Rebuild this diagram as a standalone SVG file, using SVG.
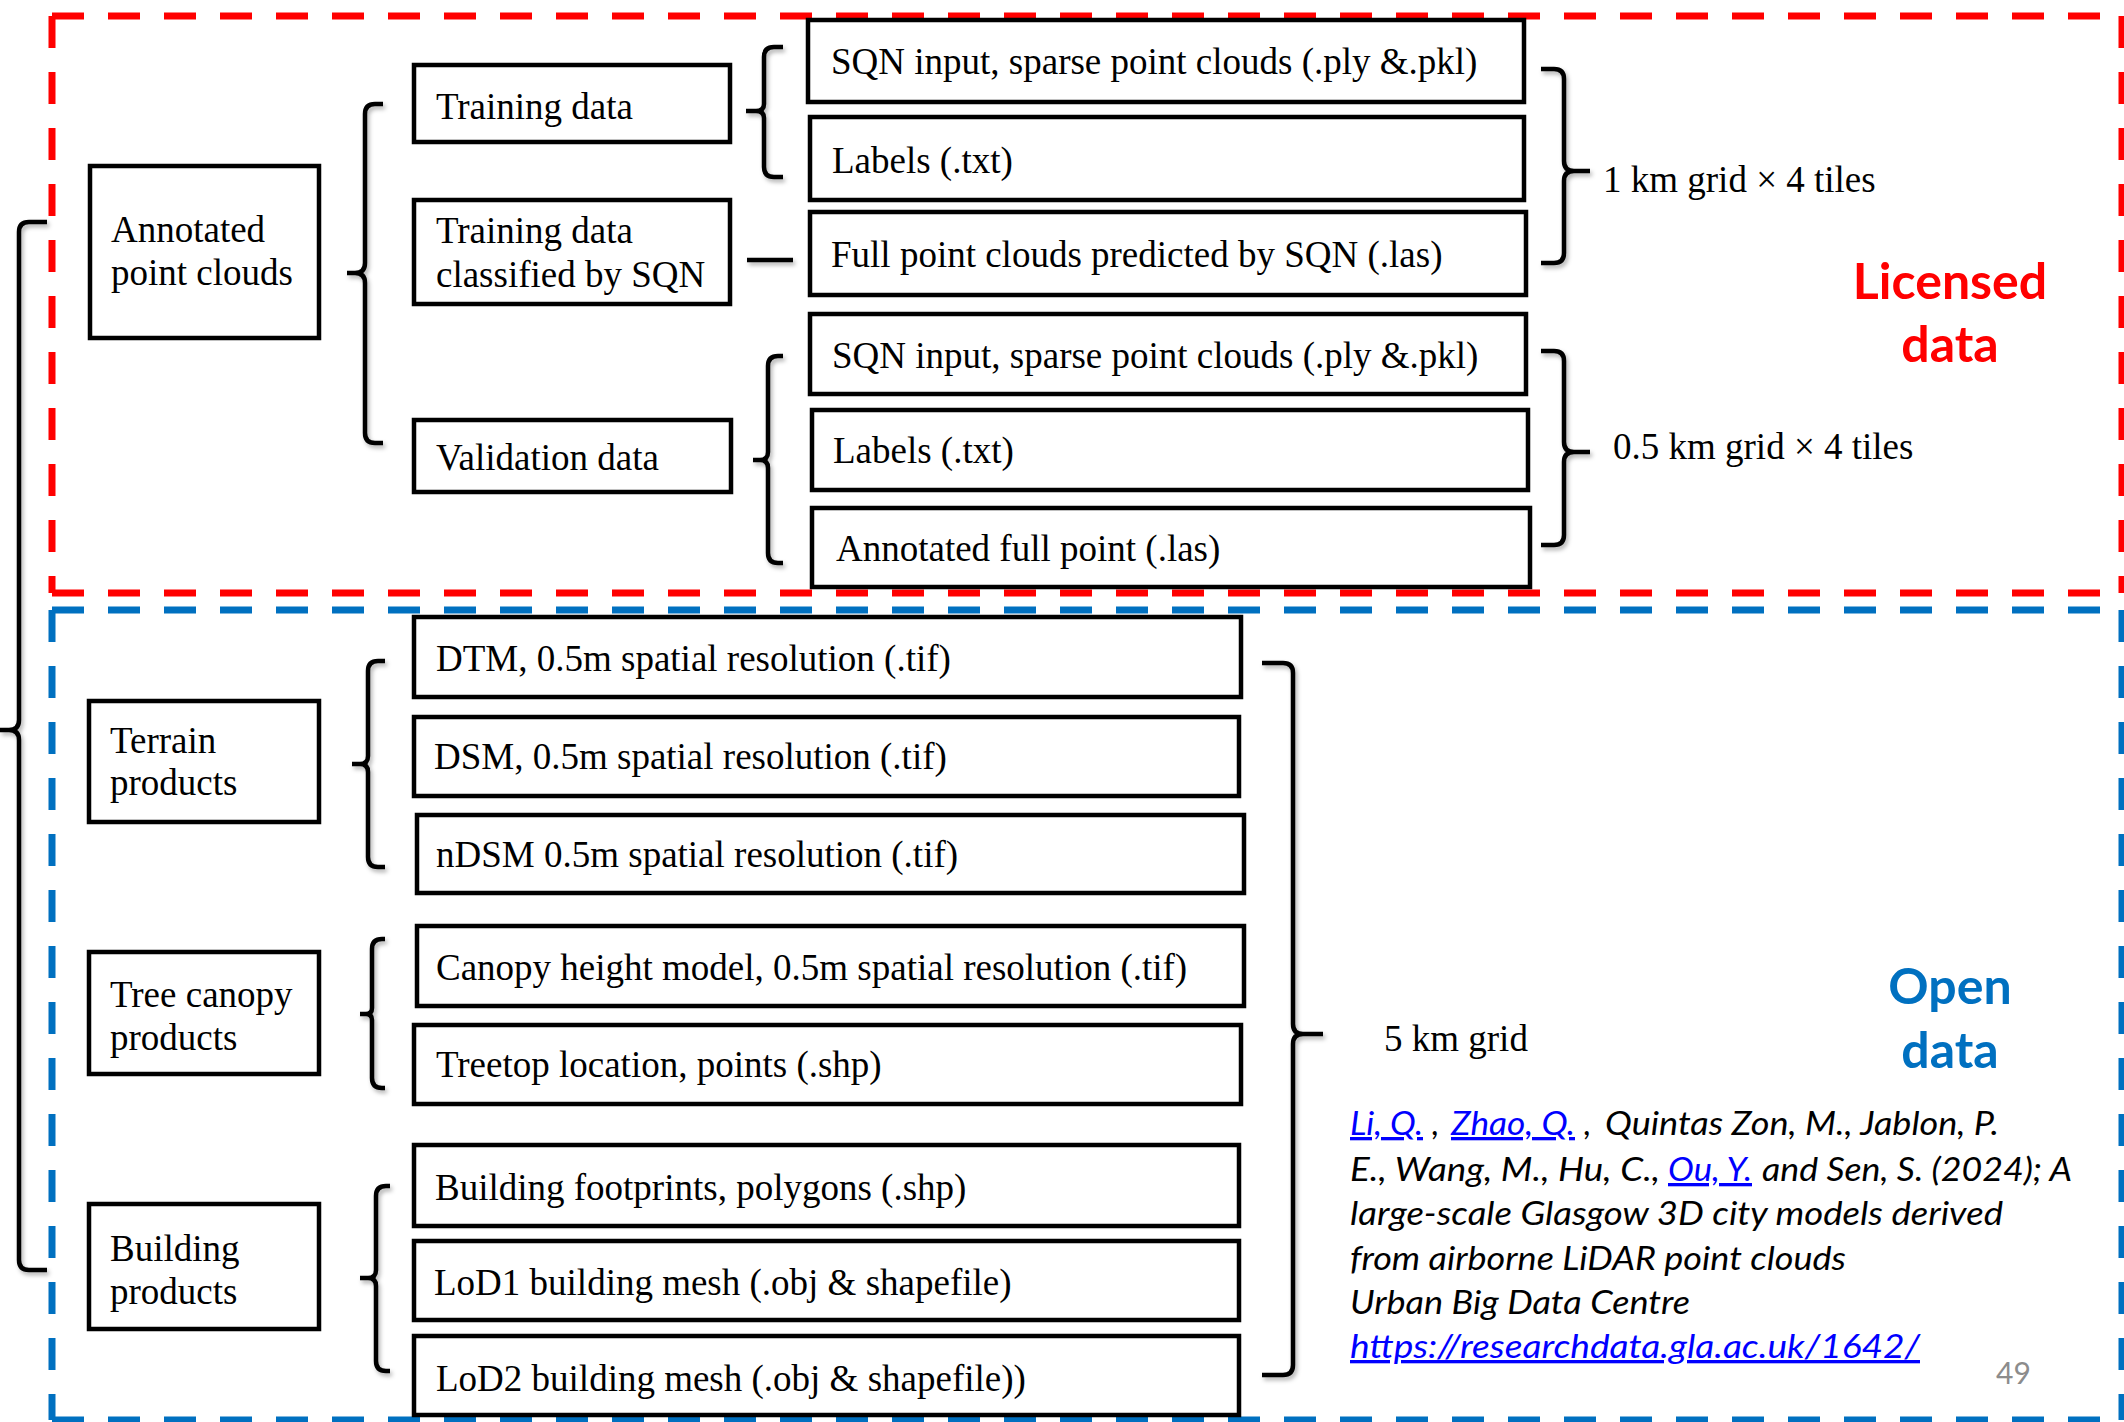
<svg xmlns="http://www.w3.org/2000/svg" width="2124" height="1422" viewBox="0 0 2124 1422">
<style>
.box{fill:#fff;stroke:#000;stroke-width:4.5}
.t{font-family:"Liberation Serif","Times New Roman",serif;font-size:37px;fill:#000}
.br{fill:none;stroke:#000;stroke-width:4.5;stroke-linecap:butt;stroke-linejoin:round}
.red{fill:none;stroke:#FF0000;stroke-width:7;stroke-dasharray:32 24}
.blue{fill:none;stroke:#0070C0;stroke-width:7;stroke-dasharray:32 24}
.cite{font-family:Lato,"Open Sans",sans-serif;font-style:italic;font-size:33px;fill:#000}
.lnk{fill:#0000FF;text-decoration:underline}
.big{font-family:Lato,"Open Sans",sans-serif;font-weight:bold;font-size:50px}
</style>
<defs>
<filter id="sh" x="-50%" y="-10%" width="200%" height="120%">
<feDropShadow dx="2" dy="3" stdDeviation="2" flood-color="#000" flood-opacity="0.3"/>
</filter>
</defs>
<rect width="2124" height="1422" fill="#fff"/>

<g id="regions">
<path class="red" d="M52,16 H2122 M52,593 H2122 M52,16 V593 M2122,16 V593"/>
<path class="blue" d="M52,610 H2122 M52,1420 H2122 M52,610 V1420 M2122,610 V1420"/>
</g>

<g id="connectors" filter="url(#sh)">
<path class="br" d="M47,222 H29 Q19,222 19,232 V720 Q19,730 9,730 H0 M0,730 H9 Q19,730 19,740 V1260 Q19,1270 29,1270 H47"/>
<path class="br" d="M383,104 H375 Q365,104 365,114 V263 Q365,273 355,273 H347 M347,273 H355 Q365,273 365,283 V433 Q365,443 375,443 H383"/>
<path class="br" d="M783,47 H774 Q764,47 764,57 V104 Q764,111 756,111 H746 M746,111 H756 Q764,111 764,118 V167 Q764,177 774,177 H783"/>
<path class="br" d="M783,356 H778 Q768,356 768,366 V452 Q768,460 760,460 H753 M753,460 H760 Q768,460 768,468 V553 Q768,563 778,563 H783"/>
<path class="br" d="M747,260 H793"/>
<path class="br" d="M1541,69 H1554 Q1564,69 1564,79 V161 Q1564,171 1574,171 H1590 M1590,171 H1574 Q1564,171 1564,181 V253 Q1564,263 1554,263 H1541"/>
<path class="br" d="M1541,351 H1554 Q1564,351 1564,361 V442 Q1564,452 1574,452 H1590 M1590,452 H1574 Q1564,452 1564,462 V535 Q1564,545 1554,545 H1541"/>
<path class="br" d="M385,661 H378 Q368,661 368,671 V756 Q368,764 360,764 H352 M352,764 H360 Q368,764 368,772 V857 Q368,867 378,867 H385"/>
<path class="br" d="M385,939 H382 Q372,939 372,949 V1008 Q372,1014 366,1014 H360 M360,1014 H366 Q372,1014 372,1020 V1078 Q372,1088 382,1088 H385"/>
<path class="br" d="M390,1186 H386 Q376,1186 376,1196 V1270 Q376,1278 368,1278 H360 M360,1278 H368 Q376,1278 376,1286 V1361 Q376,1371 386,1371 H390"/>
<path class="br" d="M1262,663 H1283 Q1293,663 1293,673 V1024 Q1293,1034 1303,1034 H1323 M1323,1034 H1303 Q1293,1034 1293,1044 V1365 Q1293,1375 1283,1375 H1262"/>
</g>

<g id="n-annotated"><rect class="box" x="90" y="166" width="229" height="172"/><text class="t" x="111" y="242">Annotated</text><text class="t" x="111" y="285">point clouds</text></g>
<g id="n-training"><rect class="box" x="414" y="65" width="316" height="77"/><text class="t" x="436" y="119">Training data</text></g>
<g id="n-classified"><rect class="box" x="414" y="200" width="316" height="104"/><text class="t" x="436" y="243">Training data</text><text class="t" x="436" y="287">classified by SQN</text></g>
<g id="n-validation"><rect class="box" x="414" y="420" width="317" height="72"/><text class="t" x="436" y="470">Validation data</text></g>

<g id="n-sqn1"><rect class="box" x="808" y="20" width="716" height="82"/><text class="t" x="831" y="74">SQN input, sparse point clouds (.ply &amp;.pkl)</text></g>
<g id="n-labels1"><rect class="box" x="810" y="117" width="714" height="83"/><text class="t" x="832" y="173">Labels (.txt)</text></g>
<g id="n-full"><rect class="box" x="810" y="212" width="716" height="83"/><text class="t" x="831" y="267">Full point clouds predicted by SQN (.las)</text></g>
<g id="n-sqn2"><rect class="box" x="810" y="314" width="716" height="80"/><text class="t" x="832" y="368">SQN input, sparse point clouds (.ply &amp;.pkl)</text></g>
<g id="n-labels2"><rect class="box" x="812" y="410" width="716" height="80"/><text class="t" x="833" y="463">Labels (.txt)</text></g>
<g id="n-annotfull"><rect class="box" x="812" y="508" width="718" height="79"/><text class="t" x="836" y="561">Annotated full point (.las)</text></g>

<g id="l-1km"><text class="t" x="1603" y="192">1 km grid × 4 tiles</text></g>
<g id="l-05km"><text class="t" x="1613" y="459">0.5 km grid × 4 tiles</text></g>
<g id="l-licensed"><text class="big" fill="#FF0000" x="1950" y="299" text-anchor="middle">Licensed</text><text class="big" fill="#FF0000" x="1950" y="362" text-anchor="middle">data</text></g>

<g id="n-terrain"><rect class="box" x="89" y="701" width="230" height="121"/><text class="t" x="110" y="753">Terrain</text><text class="t" x="110" y="795">products</text></g>
<g id="n-tree"><rect class="box" x="89" y="952" width="230" height="122"/><text class="t" x="110" y="1007">Tree canopy</text><text class="t" x="110" y="1050">products</text></g>
<g id="n-building"><rect class="box" x="89" y="1204" width="230" height="125"/><text class="t" x="110" y="1261">Building</text><text class="t" x="110" y="1304">products</text></g>

<g id="n-dtm"><rect class="box" x="414" y="617" width="827" height="80"/><text class="t" x="436" y="671">DTM, 0.5m spatial resolution (.tif)</text></g>
<g id="n-dsm"><rect class="box" x="414" y="717" width="825" height="79"/><text class="t" x="434" y="769">DSM, 0.5m spatial resolution (.tif)</text></g>
<g id="n-ndsm"><rect class="box" x="417" y="815" width="827" height="78"/><text class="t" x="436" y="867">nDSM 0.5m spatial resolution (.tif)</text></g>
<g id="n-chm"><rect class="box" x="417" y="926" width="827" height="80"/><text class="t" x="436" y="980">Canopy height model, 0.5m spatial resolution (.tif)</text></g>
<g id="n-treetop"><rect class="box" x="414" y="1025" width="827" height="79"/><text class="t" x="436" y="1077">Treetop location, points (.shp)</text></g>
<g id="n-footprints"><rect class="box" x="414" y="1145" width="825" height="81"/><text class="t" x="435" y="1200">Building footprints, polygons (.shp)</text></g>
<g id="n-lod1"><rect class="box" x="414" y="1241" width="825" height="79"/><text class="t" x="434" y="1295">LoD1 building mesh (.obj &amp; shapefile)</text></g>
<g id="n-lod2"><rect class="box" x="414" y="1336" width="825" height="79"/><text class="t" x="436" y="1391">LoD2 building mesh (.obj &amp; shapefile))</text></g>

<g id="l-5km"><text class="t" x="1384" y="1051">5 km grid</text></g>
<g id="l-open"><text class="big" fill="#0070C0" x="1950" y="1004" text-anchor="middle">Open</text><text class="big" fill="#0070C0" x="1950" y="1068" text-anchor="middle">data</text></g>

<g id="citation" class="cite">
<text y="1135"><tspan class="lnk" x="1350" textLength="73" lengthAdjust="spacingAndGlyphs">Li, Q.</tspan><tspan x="1432">,</tspan><tspan class="lnk" x="1451" textLength="124" lengthAdjust="spacingAndGlyphs">Zhao, Q.</tspan><tspan x="1584">,</tspan><tspan x="1605" textLength="394" lengthAdjust="spacingAndGlyphs">Quintas Zon, M., Jablon, P.</tspan></text>
<text y="1181"><tspan x="1350" textLength="310" lengthAdjust="spacingAndGlyphs">E., Wang, M., Hu, C.,</tspan><tspan class="lnk" x="1668" textLength="84" lengthAdjust="spacingAndGlyphs">Ou, Y.</tspan><tspan x="1762" textLength="310" lengthAdjust="spacingAndGlyphs">and Sen, S. (2024); A</tspan></text>
<text x="1350" y="1225" textLength="653" lengthAdjust="spacingAndGlyphs">large-scale Glasgow 3D city models derived</text>
<text x="1350" y="1270" textLength="496" lengthAdjust="spacingAndGlyphs">from airborne LiDAR point clouds</text>
<text x="1350" y="1314" textLength="340" lengthAdjust="spacingAndGlyphs">Urban Big Data Centre</text>
<text x="1350" y="1358" class="lnk" textLength="570" lengthAdjust="spacingAndGlyphs">https://researchdata.gla.ac.uk/1642/</text>
</g>
<g id="pagenum"><text x="1996" y="1384" font-family="Lato,'Open Sans',sans-serif" font-size="30" fill="#8C8C8C">49</text></g>
</svg>
